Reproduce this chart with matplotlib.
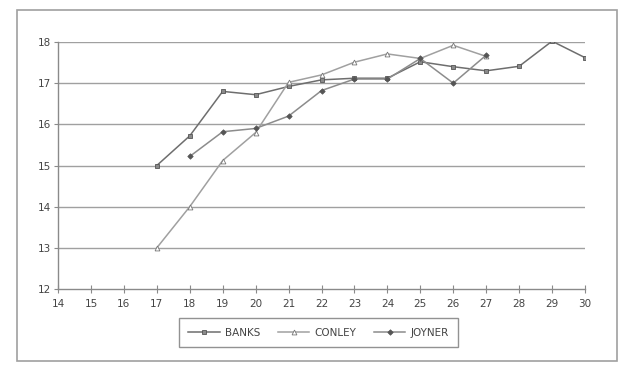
import matplotlib.pyplot as plt
from matplotlib.patches import Rectangle

# data
banks_x = [17, 18, 19, 20, 21, 22, 23, 24, 25, 26, 27, 28, 29, 30]
banks_y = [15.0, 15.72, 16.8, 16.72, 16.92, 17.08, 17.12, 17.12, 17.52, 17.4, 17.3, 17.41, 18.02, 17.62]

conley_x = [17, 18, 19, 20, 21, 22, 23, 24, 25, 26, 27]
conley_y = [13.0, 14.0, 15.12, 15.8, 17.02, 17.2, 17.51, 17.71, 17.6, 17.92, 17.65]

joyner_x = [18, 19, 20, 21, 22, 23, 24, 25, 26, 27]
joyner_y = [15.22, 15.82, 15.9, 16.2, 16.82, 17.1, 17.1, 17.6, 17.0, 17.68]

x_ticks = list(range(14, 31))
y_ticks = [12, 13, 14, 15, 16, 17, 18]

txt = '#444444'
grid = '#a0a0a0'

fig = plt.figure(figsize=(6.22, 3.67), dpi=100)
ax = fig.add_axes([58 / 622, 1 - 289 / 367, 527 / 622, 247 / 367])

ax.plot(banks_x, banks_y, color='#6e6e6e', lw=1.1, marker='s', ms=3.5,
        mfc='#8a8a8a', mec='#555555', mew=0.6, label='BANKS')
ax.plot(conley_x, conley_y, color='#a0a0a0', lw=1.1, marker='^', ms=3.5,
        mfc='white', mec='#777777', mew=0.6, label='CONLEY')
ax.plot(joyner_x, joyner_y, color='#8c8c8c', lw=1.1, marker='D', ms=2.8,
        mfc='#555555', mec='#555555', mew=0.5, label='JOYNER')

ax.set_xlim(14, 30)
ax.set_ylim(12, 18)
ax.set_xticks(x_ticks)
ax.set_yticks(y_ticks)
for y in y_ticks[1:]:
    ax.axhline(y, color=grid, lw=1.0, zorder=0)

for s in ['top', 'right']:
    ax.spines[s].set_visible(False)
for s in ['left', 'bottom']:
    ax.spines[s].set_color('#8a8a8a')
    ax.spines[s].set_linewidth(1.0)

ax.tick_params(axis='x', direction='inout', length=6, width=0.8, color='#8a8a8a',
               labelsize=7.5, labelcolor=txt, pad=4)
ax.tick_params(axis='y', direction='out', length=3, width=0.8, color='#8a8a8a',
               labelsize=7.5, labelcolor=txt, pad=2)

leg = fig.legend(loc='center', bbox_to_anchor=(318.5 / 622, 1 - 332.5 / 367), ncol=3,
                 frameon=True, fancybox=False, fontsize=7.5, handlelength=3.0,
                 columnspacing=1.7, borderpad=0.9, handletextpad=0.5)
leg.get_frame().set_edgecolor('#777777')
leg.get_frame().set_linewidth(1.0)
for t in leg.get_texts():
    t.set_color(txt)

# outer border
fig.patches.append(Rectangle((17 / 622, 1 - 361 / 367), 600 / 622, 351 / 367,
                             transform=fig.transFigure, fill=False,
                             edgecolor='#a0a0a0', lw=1.2))

fig.savefig('out.png', dpi=100)
